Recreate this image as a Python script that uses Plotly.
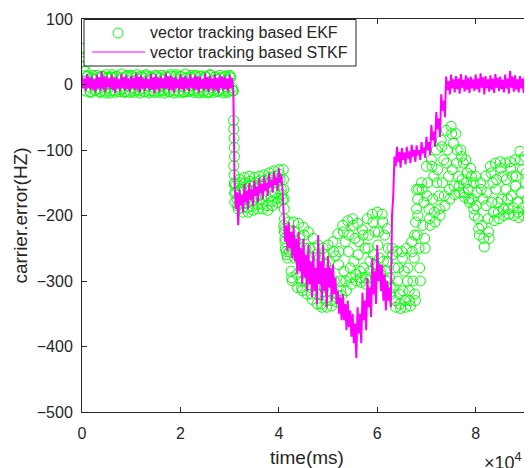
import numpy as np
import plotly.graph_objects as go

# ---------------- data ----------------
t_step = 1000
n_pts = 92

# STKF samples per 1000 ms: outer upper (t+0), inner lower (t+250),
# inner upper (t+500), outer lower (t+750)
stkf_hi = [14, 16, 12, 15, 20, 13, 15, 12, 16, 14,
           13, 17, 14, 12, 16, 15, 13, 18, 14, 12,
           15, 13, 16, 14, 12, 17, 13, 15, 14, 12,
           15, -150, -160, -152, -150, -146, -143, -140, -136, -133,
           -128, -200, -210, -215, -225, -235, -245, -255, -230, -245,
           -262, -275, -315, -320, -330, -350, -340, -318, -295, -265,
           -245, -275, -300, -200, -95, -97, -95, -92, -93, -88,
           -80, -62, -42, -15, 12, 15, 13, 16, 14, 12,
           15, 17, 13, 14, 16, 12, 15, 21, 14, 13,
           15, 14]
stkf_lo2 = [-6, -5, -8, -6, -7, -4, -8, -6, -5, -7,
            -5, -8, -6, -5, -8, -7, -5, -6, -8, -5,
            -7, -6, -5, -8, -6, -7, -6, -8, -5, -7,
            -5, -190, -185, -180, -176, -170, -166, -162, -157, -153,
            -150, -240, -250, -270, -285, -295, -305, -315, -305, -315,
            -310, -320, -350, -360, -370, -395, -380, -360, -340, -320,
            -300, -330, -330, -170, -118, -115, -113, -110, -108, -105,
            -100, -85, -68, -40, -8, -6, -7, -5, -8, -6,
            -7, -5, -6, -8, -5, -7, -6, -5, -8, -6,
            -7, -5]
stkf_hi2 = [9, 11, 8, 10, 12, 9, 10, 8, 11, 9,
            10, 12, 9, 8, 11, 10, 9, 12, 10, 8,
            11, 9, 10, 12, 8, 11, 9, 10, 12, 9,
            10, -165, -168, -162, -160, -156, -152, -150, -146, -142,
            -138, -215, -225, -235, -250, -260, -270, -280, -270, -280,
            -280, -295, -325, -335, -345, -365, -350, -330, -310, -285,
            -275, -290, -310, -110, -103, -104, -102, -100, -100, -96,
            -88, -72, -52, -25, 5, 8, 9, 7, 10, 8,
            9, 11, 8, 9, 10, 7, 9, 12, 8, 9,
            10, 8]
stkf_lo = [-10, -8, -12, -9, -11, -7, -13, -10, -9, -11,
           -8, -12, -10, -9, -13, -11, -8, -10, -12, -9,
           -11, -10, -8, -12, -9, -11, -10, -13, -9, -11,
           -8, -215, -195, -190, -185, -180, -175, -170, -165, -162,
           -160, -255, -265, -290, -305, -315, -325, -335, -330, -340,
           -330, -335, -360, -375, -385, -418, -395, -375, -355, -335,
           -315, -345, -340, -125, -127, -122, -120, -118, -115, -112,
           -108, -95, -80, -50, -15, -12, -14, -11, -13, -10,
           -12, -15, -11, -13, -10, -12, -14, -11, -12, -13,
           -11, -12]

# EKF: six samples per 1000 ms (offsets 0, 125, 250, 500, 625, 750 ms)
ekf_hi = [55, 13, 10, 14, 12, 15, 11, 13, 16, 12,
          14, 11, 13, 15, 12, 14, 10, 13, 15, 12,
          13, 16, 11, 14, 12, 13, 15, 11, 14, 12,
          14, -150, -145, -142, -140, -142, -140, -138, -135, -132,
          -130, -215, -210, -210, -212, -218, -225, -235, -245, -250,
          -245, -240, -228, -215, -208, -205, -212, -222, -205, -198,
          -195, -198, -220, -250, -255, -255, -250, -240, -160, -150,
          -125, -115, -100, -85, -70, -64, -75, -100, -115, -128,
          -140, -150, -140, -125, -120, -118, -120, -118, -115, -102,
          -110, -115]
ekf_c = [35, 12, 14, 10, 13, 11, 15, 12, 10, 14,
         12, 15, 11, 13, 10, 12, 14, 11, 13, 15,
         12, 10, 14, 12, 13, 11, 14, 12, 10, 13,
         12, -155, -150, -150, -148, -150, -147, -146, -142, -140,
         -137, -225, -255, -225, -265, -230, -285, -250, -295, -260,
         -295, -255, -275, -225, -255, -215, -260, -230, -250, -210,
         -245, -210, -270, -260, -300, -265, -300, -255, -230, -160,
         -170, -125, -150, -95, -120, -75, -120, -110, -150, -140,
         -185, -160, -185, -135, -160, -128, -160, -128, -155, -115,
         -150, -125]
ekf_a = [42, 5, 8, 3, 6, 9, 4, 7, 2, 6,
         5, 8, 3, 6, 9, 4, 7, 5, 3, 8,
         6, 4, 9, 5, 7, 3, 6, 8, 4, 7,
         10, -165, -160, -175, -155, -172, -155, -170, -150, -165,
         -145, -240, -235, -265, -235, -280, -250, -295, -265, -310,
         -270, -300, -255, -285, -230, -270, -240, -280, -230, -260,
         -225, -270, -250, -310, -280, -315, -280, -300, -200, -215,
         -150, -175, -130, -150, -100, -130, -100, -145, -135, -175,
         -165, -215, -165, -180, -145, -175, -145, -170, -140, -165,
         -135, -170]
ekf_b = [28, -4, -2, -6, -3, -5, -1, -4, -6, -2,
         -5, -3, -6, -2, -4, -5, -3, -6, -1, -4,
         -3, -5, -2, -6, -4, -3, -5, -2, -6, -4,
         -5, -175, -180, -158, -178, -158, -175, -152, -170, -148,
         -160, -255, -285, -240, -300, -250, -310, -260, -320, -275,
         -315, -262, -300, -240, -280, -235, -285, -250, -270, -225,
         -265, -230, -295, -280, -320, -285, -315, -265, -250, -180,
         -190, -140, -170, -115, -140, -90, -140, -120, -160, -150,
         -205, -175, -205, -150, -180, -140, -175, -140, -180, -130,
         -175, -140]
ekf_d = [20, -11, -9, -12, -10, -13, -9, -11, -12, -10,
         -12, -9, -11, -13, -10, -12, -9, -11, -13, -10,
         -12, -11, -9, -10, -12, -13, -9, -11, -10, -12,
         -9, -185, -188, -188, -186, -183, -183, -185, -178, -174,
         -168, -260, -295, -290, -310, -300, -320, -320, -335, -330,
         -330, -320, -315, -300, -295, -290, -295, -295, -285, -275,
         -285, -285, -310, -330, -335, -330, -330, -320, -280, -235,
         -205, -195, -190, -170, -160, -155, -155, -165, -175, -190,
         -220, -235, -225, -195, -195, -190, -190, -188, -195, -188,
         -190, -185]
ekf_lo = [-10, -12, -9, -11, -13, -10, -12, -8, -11, -12,
          -9, -13, -11, -10, -12, -9, -13, -11, -10, -12,
          -11, -9, -12, -13, -10, -11, -12, -9, -13, -10,
          -10, -190, -195, -195, -192, -190, -190, -192, -185, -180,
          -175, -265, -300, -310, -315, -320, -328, -335, -340, -340,
          -338, -332, -322, -315, -305, -300, -302, -305, -295, -290,
          -290, -300, -320, -340, -342, -340, -338, -330, -300, -250,
          -215, -210, -200, -185, -175, -168, -165, -172, -180, -200,
          -230, -248, -235, -208, -205, -200, -198, -200, -203, -200,
          -198, -195]

# EKF transients (fast jumps)
ekf_jump_t = [30800, 30850, 30900, 30950, 31000, 30850, 30900, 30950, 31000, 31050,
              40900, 40950, 41000, 41050, 41100, 41150, 41200, 41250, 41300,
              67600, 67800, 68000, 68200, 68400]
ekf_jump_v = [-55, -68, -82, -96, -110, -124, -138, -152, -166, -180,
              -130, -145, -160, -175, -190, -205, -220, -235, -250,
              -230, -210, -190, -175, -160]

x_tickvals = [0, 20000, 40000, 60000, 80000]
x_ticktext = ["0", "2", "4", "6", "8"]
y_tickvals = [-500, -400, -300, -200, -100, 0, 100]

series_names = ["vector tracking based EKF", "vector tracking based STKF"]

# ---------------- build traces ----------------
base = np.arange(n_pts) * t_step
stkf_t = np.concatenate([base, base + 250, base + 500, base + 750])
stkf_v = np.concatenate([stkf_hi, stkf_lo2, stkf_hi2, stkf_lo])
o = np.argsort(stkf_t, kind="stable")
stkf_t, stkf_v = stkf_t[o], stkf_v[o]

ekf_t = np.concatenate([base, base + 125, base + 250, base + 500, base + 625,
                        base + 750, ekf_jump_t])
ekf_v = np.concatenate([ekf_hi, ekf_c, ekf_a, ekf_b, ekf_d, ekf_lo, ekf_jump_v])
o = np.argsort(ekf_t, kind="stable")
ekf_t, ekf_v = ekf_t[o], ekf_v[o]

FONT = "Liberation Sans, Arial, Helvetica, sans-serif"
DARK = "#262626"
GREEN = "#00FF00"
MAGENTA = "#FF00FF"

# page has an 8px body margin; figure is placed at (8, 8)
OFF = 8
W, H = 532 - OFF, 468 - OFF
ML, MR, MT, MB = 82 - OFF, 0, 19 - OFF, 56
PW, PH = W - ML - MR, H - MT - MB


def px_x(p):
    return (p - OFF - ML) / PW


def px_y(p):
    return (H - MB - (p - OFF)) / PH


fig = go.Figure()
fig.add_trace(go.Scatter(
    x=ekf_t, y=ekf_v, mode="markers", name=series_names[0], showlegend=False,
    marker=dict(symbol="circle-open", size=10, color=GREEN,
                line=dict(color=GREEN, width=1)),
))
fig.add_trace(go.Scatter(
    x=stkf_t, y=stkf_v, mode="lines", name=series_names[1], showlegend=False,
    line=dict(color=MAGENTA, width=2),
))

# legend drawn as shapes + text (box, symbols, labels)
shapes = [
    dict(type="rect", xref="paper", yref="paper", layer="above",
         x0=px_x(84), x1=px_x(356), y0=px_y(66), y1=px_y(19.5),
         fillcolor="white", line=dict(color=DARK, width=1)),
    dict(type="circle", xref="paper", yref="paper", layer="above",
         xsizemode="pixel", ysizemode="pixel",
         xanchor=px_x(118), yanchor=px_y(33),
         x0=-5, x1=5, y0=-5, y1=5,
         line=dict(color=GREEN, width=1)),
    dict(type="line", xref="paper", yref="paper", layer="above",
         x0=px_x(92), x1=px_x(145), y0=px_y(52), y1=px_y(52),
         line=dict(color=MAGENTA, width=1)),
]
annotations = [
    dict(text=series_names[0], xref="paper", yref="paper", x=px_x(148), y=px_y(33),
         xanchor="left", yanchor="middle", showarrow=False,
         font=dict(size=16, color=DARK)),
    dict(text=series_names[1], xref="paper", yref="paper", x=px_x(148), y=px_y(52),
         xanchor="left", yanchor="middle", showarrow=False,
         font=dict(size=16, color=DARK)),
    dict(text="×10<sup>4</sup>", xref="paper", yref="paper",
         x=px_x(482), y=px_y(461), xanchor="left", yanchor="middle",
         showarrow=False, font=dict(size=18, color=DARK)),
]

fig.update_layout(
    width=W, height=H,
    margin=dict(l=ML, r=MR, t=MT, b=MB, autoexpand=False),
    paper_bgcolor="white", plot_bgcolor="white",
    font=dict(family=FONT, color=DARK, size=16),
    showlegend=False,
    shapes=shapes, annotations=annotations,
)
fig.update_xaxes(range=[0, 91450], tickvals=x_tickvals, ticktext=x_ticktext,
                 automargin=False,
                 showgrid=False, zeroline=False, showline=True, linecolor=DARK,
                 linewidth=1, mirror="ticks", ticks="inside", ticklen=5,
                 tickcolor=DARK, ticklabelstandoff=7,
                 tickfont=dict(size=16, color=DARK),
                 title=dict(text="time(ms)", font=dict(size=19, color=DARK), standoff=9))
fig.update_yaxes(range=[-500, 100], tickvals=y_tickvals,
                 automargin=False,
                 showgrid=False, zeroline=False, showline=True, linecolor=DARK,
                 linewidth=1, mirror=False, ticks="inside", ticklen=5,
                 tickcolor=DARK, ticklabelstandoff=5,
                 tickfont=dict(size=16, color=DARK),
                 title=dict(text="carrier.error(HZ)", font=dict(size=19, color=DARK), standoff=4))

fig.write_html("out.html")
